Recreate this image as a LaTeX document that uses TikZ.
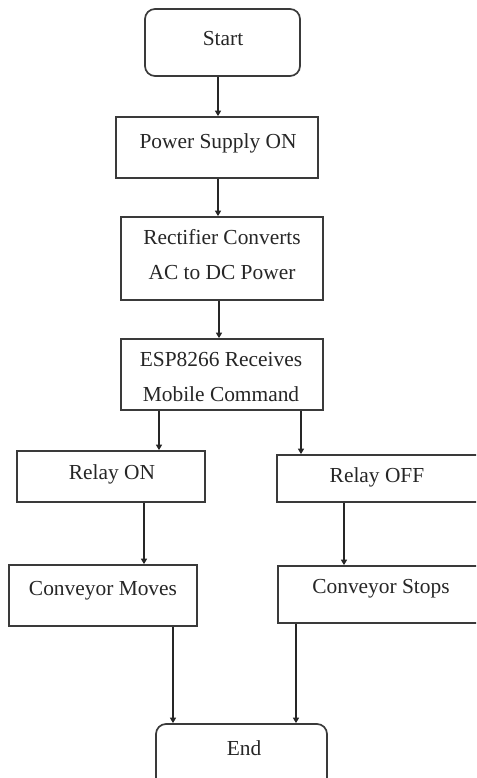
\documentclass[tikz,border=0pt]{standalone}
\usepackage{fontspec}
\setmainfont{Liberation Serif}
\usetikzlibrary{arrows.meta}

\definecolor{edge}{HTML}{3A3A3A}

\tikzset{
  boxshape/.style={draw=edge, line width=1.7pt, fill=white, inner sep=0pt},
  termshape/.style={boxshape, rounded corners=10pt},
  lbl/.style={font=\fontsize{21.4}{35}\selectfont, align=center, inner sep=0pt,
              text=black!85},
  flow/.style={draw=black!85, line width=1.3pt,
               -{Triangle[width=6pt,length=5.5pt]}},
  link/.style={draw=black!85, line width=1.3pt}
}

% a box given by its left, right, top and bottom edges (y grows downward)
\newcommand{\flowbox}[6]{%
  \node[#1, minimum width={(#4)-(#3)}, minimum height={(#6)-(#5)}]
    (#2) at ({((#3)+(#4))/2}, {((#5)+(#6))/2}) {};}

\begin{document}
\begin{tikzpicture}[x=1pt, y=-1pt]
\useasboundingbox (0,0) rectangle (476,778);
\clip (0,0) rectangle (476,778);

% boxes
\flowbox{termshape}{start}{145}{300}{9}{76}
\flowbox{boxshape}{power}{116}{318}{117}{178}
\flowbox{boxshape}{rect}{121}{323}{217}{300}
\flowbox{boxshape}{esp}{121}{323}{339}{410}
\flowbox{boxshape}{ron}{17}{205}{451}{502}
\flowbox{boxshape}{roff}{277}{490}{455}{502}
\flowbox{boxshape}{cmove}{9}{197}{565}{626}
\flowbox{boxshape}{cstop}{278}{490}{566}{623}
\flowbox{termshape}{end}{156}{327}{724}{790}

% labels
\node[lbl] (tstart) at (223,39) {Start};
\node[lbl] (tpower) at (218,143) {Power Supply ON};
\node[lbl] (trect)  at (222,255) {Rectifier Converts\\AC to DC Power};
\node[lbl] (tesp)   at (221,377) {ESP8266 Receives\\Mobile Command};
\node[lbl] (tron)   at (112,474) {Relay ON};
\node[lbl] (troff)  at (377,477) {Relay OFF};
\node[lbl] (tcmove) at (103,591) {Conveyor Moves};
\node[lbl] (tcstop) at (381,589) {Conveyor Stops};
\node[lbl] (tend)   at (244,748) {End};

% connectors
\draw[flow] (start.south -| 218,0) -- (power.north -| 218,0);
\draw[flow] (power.south -| 218,0) -- (rect.north -| 218,0);
\draw[flow] (rect.south -| 219,0) -- (esp.north -| 219,0);
\draw[flow] (esp.south -| 159,0) -- (ron.north -| 159,0);
\draw[flow] (esp.south -| 301,0) -- (roff.north -| 301,0);
\draw[flow] (ron.south -| 144,0) -- (cmove.north -| 144,0);
\draw[flow] (roff.south -| 344,0) -- (cstop.north -| 344,0);
\draw[flow] (cmove.south -| 173,0) -- (end.north -| 173,0);
\draw[flow] (cstop.south -| 296,0) -- (end.north -| 296,0);
\end{tikzpicture}
\end{document}
